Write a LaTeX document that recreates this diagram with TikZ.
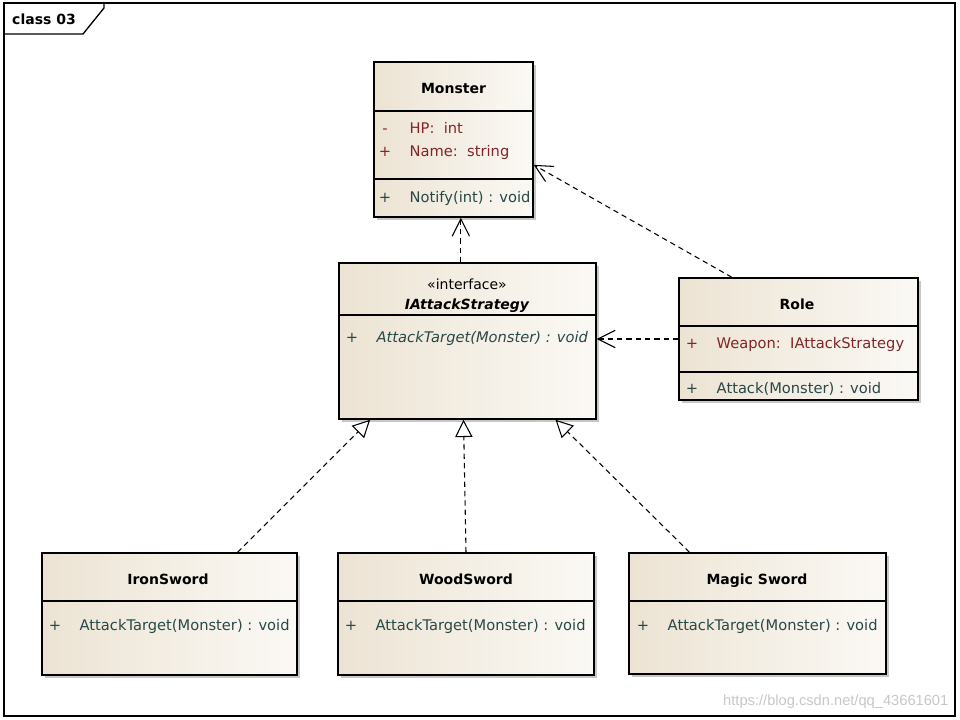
\documentclass[tikz,border=0pt]{standalone}
\usepackage{fontspec}
\setmainfont{DejaVu Sans}
\newfontfamily\markfont{Liberation Sans}
\usetikzlibrary{arrows.meta,fit,shadows}

\definecolor{clsleft}{RGB}{236,227,211}
\definecolor{clsright}{RGB}{251,249,245}
\definecolor{attrred}{RGB}{128,38,38}
\definecolor{opteal}{RGB}{40,72,72}

\tikzset{
  cls/.style={draw, line width=1.1pt, inner sep=0pt, left color=clsleft,
    right color=clsright, drop shadow={shadow xshift=2.5pt,
    shadow yshift=-2.5pt, fill=black!40, opacity=.55}},
  txt/.style={text height=1.6ex, text depth=.4ex},
  clsname/.style={txt, font=\fontsize{10.5}{12}\selectfont\bfseries},
  attr/.style={txt, anchor=west, text=attrred, font=\fontsize{11}{13}\selectfont},
  oper/.style={txt, anchor=west, text=opteal, font=\fontsize{11}{13}\selectfont},
  vis/.style={anchor=center},
  sep/.style={line width=.9pt},
  dep/.style={line width=.8pt, dash pattern=on 4pt off 3pt,
    -{Straight Barb[length=13pt,width=13pt]}},
  real/.style={line width=.8pt, dash pattern=on 4pt off 3pt,
    -{Triangle[open,length=13pt,width=13pt]}}
}

\begin{document}
\begin{tikzpicture}[x=0.75pt,y=-0.75pt]
  \useasboundingbox (0,0) rectangle (960,720);
  % frame and tab
  \draw [line width=1.2pt] (4,3) rectangle (955,716);
  \draw [line width=1pt] (4,34) -- (83,34) -- (104,8) -- (104,3);
  \node [font=\fontsize{10.5}{12}\selectfont\bfseries] (tab) at (44,19) {class 03};

  % Monster
  \node [cls, fit={(374,62) (533,217)}] (monster) {};
  \draw [sep] (monster.west |- 0,111) -- (monster.east |- 0,111);
  \draw [sep] (monster.west |- 0,179) -- (monster.east |- 0,179);
  \node [clsname] (monstername) at (453.5,89) {Monster};
  \node [attr, vis] (hpvis) at (385,129) {-};
  \node [attr] (hp) at (405,129) {HP:\ \ int};
  \node [attr, vis] (namevis) at (385,152) {+};
  \node [attr] (name) at (405,152) {Name:\ \ string};
  \node [oper, vis] (notifyvis) at (385,198) {+};
  \node [oper] (notify) at (405,198) {Notify(int) : void};

  % IAttackStrategy
  \node [cls, fit={(339,263) (596,419)}] (iattack) {};
  \draw [sep] (iattack.west |- 0,315) -- (iattack.east |- 0,315);
  \node [txt, font=\fontsize{10.5}{12}\selectfont] (stereo) at (467,285) {«interface»};
  \node [clsname, font=\fontsize{10.5}{12}\selectfont\bfseries\itshape] (iattackname) at (467,305) {IAttackStrategy};
  \node [oper, vis] (targetvis) at (352,338) {+};
  \node [oper, font=\fontsize{11}{13}\selectfont\itshape] (target) at (372,338) {AttackTarget(Monster) : void};

  % Role
  \node [cls, fit={(679,278) (918,400)}] (role) {};
  \draw [sep] (role.west |- 0,326) -- (role.east |- 0,326);
  \node [clsname] (rolename) at (797,305) {Role};
  \draw [sep] (role.west |- 0,372) -- (role.east |- 0,372);
  \node [attr, vis] (weaponvis) at (692,344) {+};
  \node [attr] (weapon) at (712,344) {Weapon:\ \ IAttackStrategy};
  \node [oper, vis] (attackvis) at (692,389) {+};
  \node [oper] (attack) at (712,389) {Attack(Monster) : void};

  % IronSword
  \node [cls, fit={(42,553) (297,675)}] (iron) {};
  \draw [sep] (iron.west |- 0,601) -- (iron.east |- 0,601);
  \node [clsname] (ironname) at (168,580) {IronSword};
  \node [oper, vis] (ironvis) at (55,626) {+};
  \node [oper] (irontarget) at (75,626) {AttackTarget(Monster) : void};

  % WoodSword
  \node [cls, fit={(338,553) (594,675)}] (wood) {};
  \draw [sep] (wood.west |- 0,601) -- (wood.east |- 0,601);
  \node [clsname] (woodname) at (466,580) {WoodSword};
  \node [oper, vis] (woodvis) at (351,626) {+};
  \node [oper] (woodtarget) at (371,626) {AttackTarget(Monster) : void};

  % MagicSword
  \node [cls, fit={(629,553) (886,674)}] (magic) {};
  \draw [sep] (magic.west |- 0,601) -- (magic.east |- 0,601);
  \node [clsname] (magicname) at (757,580) {Magic Sword};
  \node [oper, vis] (magicvis) at (643,626) {+};
  \node [oper] (magictarget) at (663,626) {AttackTarget(Monster) : void};

  % dependencies
  \draw [dep] ([xshift=-5pt]iattack.north) -- ([xshift=-5pt]iattack.north |- monster.south);
  \draw [dep] ([xshift=-50pt]role.north) -- ([yshift=-19pt]monster.east);
  \draw [dep] (role.west) -- (role.west -| iattack.east);

  % realizations
  \draw [real] ([xshift=51pt]iron.north) -- ([xshift=-73pt]iattack.south);
  \draw [real] (wood.north) -- ([xshift=-3pt]iattack.south);
  \draw [real] ([xshift=-51pt]magic.north) -- ([xshift=66pt]iattack.south);

  % watermark
  \node [anchor=east, text=black!22, font=\markfont\fontsize{11}{13}\selectfont] (mark) at (953,702) {https://blog.csdn.net/qq\_43661601};
\end{tikzpicture}
\end{document}
